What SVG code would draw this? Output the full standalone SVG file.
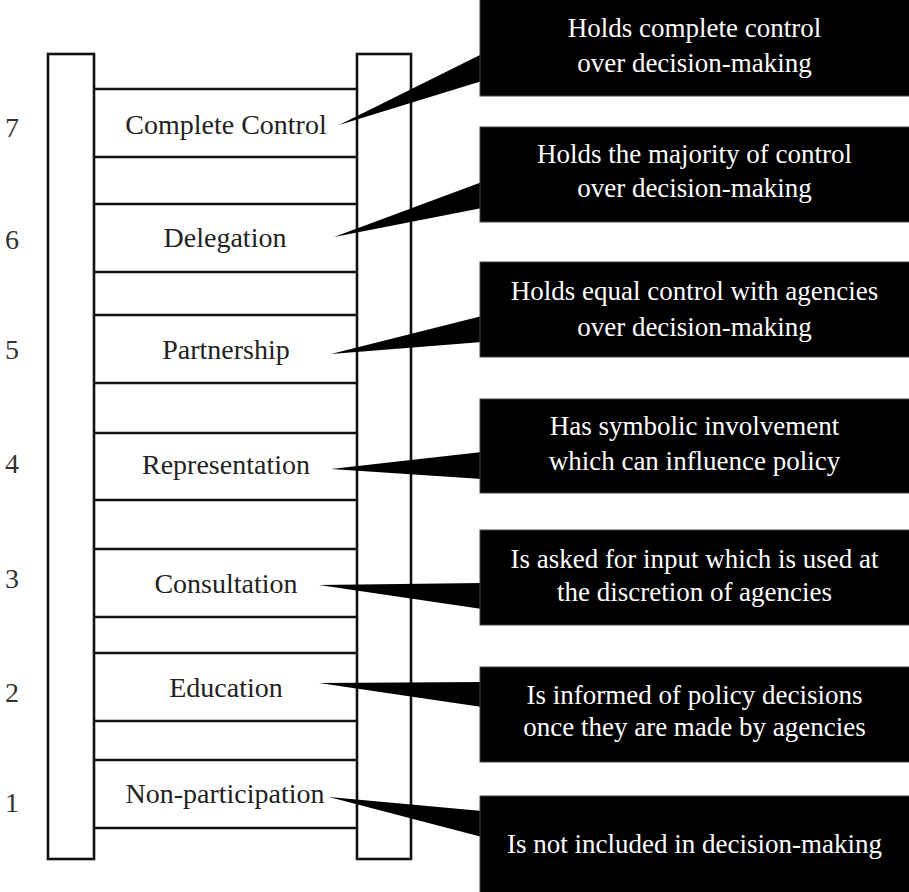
<svg xmlns="http://www.w3.org/2000/svg" width="909" height="892" viewBox="0 0 909 892">
<style>
.rail{fill:#fff;stroke:#111;stroke-width:2.6}
.rung{stroke:#111;stroke-width:2.6}
.lbl{font-family:"Liberation Serif","Times New Roman",serif;font-size:28px;fill:#222;text-anchor:middle}
.num{font-family:"Liberation Serif","Times New Roman",serif;font-size:28px;fill:#333}
.box{fill:#000;stroke:#444;stroke-width:1}
.tail{fill:#000}
.ct{font-family:"Liberation Serif","Times New Roman",serif;font-size:27px;fill:#fff;text-anchor:middle}
</style>
<rect width="909" height="892" fill="#fff"/>
<g id="ladder">
<rect class="rail" x="48" y="54" width="46" height="805"/>
<rect class="rail" x="357" y="54" width="54" height="805"/>
<g>
<line class="rung" x1="94" y1="89" x2="357" y2="89"/><line class="rung" x1="94" y1="157" x2="357" y2="157"/>
<line class="rung" x1="94" y1="204" x2="357" y2="204"/><line class="rung" x1="94" y1="272" x2="357" y2="272"/>
<line class="rung" x1="94" y1="315" x2="357" y2="315"/><line class="rung" x1="94" y1="383" x2="357" y2="383"/>
<line class="rung" x1="94" y1="433" x2="357" y2="433"/><line class="rung" x1="94" y1="500" x2="357" y2="500"/>
<line class="rung" x1="94" y1="549" x2="357" y2="549"/><line class="rung" x1="94" y1="617" x2="357" y2="617"/>
<line class="rung" x1="94" y1="653" x2="357" y2="653"/><line class="rung" x1="94" y1="721" x2="357" y2="721"/>
<line class="rung" x1="94" y1="760" x2="357" y2="760"/><line class="rung" x1="94" y1="828" x2="357" y2="828"/>
</g>
</g>
<g id="level7"><text class="num" x="5" y="137">7</text><text class="lbl" x="226" y="134">Complete Control</text></g>
<g id="level6"><text class="num" x="5" y="249">6</text><text class="lbl" x="225" y="247">Delegation</text></g>
<g id="level5"><text class="num" x="5" y="359">5</text><text class="lbl" x="226" y="359">Partnership</text></g>
<g id="level4"><text class="num" x="5" y="473">4</text><text class="lbl" x="226" y="474">Representation</text></g>
<g id="level3"><text class="num" x="5" y="588">3</text><text class="lbl" x="226" y="593">Consultation</text></g>
<g id="level2"><text class="num" x="5" y="702">2</text><text class="lbl" x="226" y="697">Education</text></g>
<g id="level1"><text class="num" x="5" y="812">1</text><text class="lbl" x="225" y="803">Non-participation</text></g>
<g id="connectors">
<polygon class="tail" points="482,54 339,125 482,81"/>
<polygon class="tail" points="482,182 334,237 482,208"/>
<polygon class="tail" points="482,316 331,354 482,342"/>
<polygon class="tail" points="482,452 331,469 482,479"/>
<polygon class="tail" points="482,583 319,585 482,609"/>
<polygon class="tail" points="482,682 319,683 482,707"/>
<polygon class="tail" points="482,811 329,797 482,837"/>
</g>
<g id="callout7"><rect class="box" x="480" y="-1" width="430" height="97"/><text class="ct" x="694.5" y="37">Holds complete control</text><text class="ct" x="694.5" y="72">over decision-making</text></g>
<g id="callout6"><rect class="box" x="480" y="127" width="430" height="95"/><text class="ct" x="694.5" y="163">Holds the majority of control</text><text class="ct" x="694.5" y="197">over decision-making</text></g>
<g id="callout5"><rect class="box" x="480" y="262" width="430" height="95"/><text class="ct" x="694.5" y="300">Holds equal control with agencies</text><text class="ct" x="694.5" y="336">over decision-making</text></g>
<g id="callout4"><rect class="box" x="480" y="399" width="430" height="94"/><text class="ct" x="694.5" y="435">Has symbolic involvement</text><text class="ct" x="694.5" y="470">which can influence policy</text></g>
<g id="callout3"><rect class="box" x="480" y="530" width="430" height="95"/><text class="ct" x="694.5" y="568">Is asked for input which is used at</text><text class="ct" x="694.5" y="601">the discretion of agencies</text></g>
<g id="callout2"><rect class="box" x="480" y="667" width="430" height="95"/><text class="ct" x="694.5" y="704">Is informed of policy decisions</text><text class="ct" x="694.5" y="736">once they are made by agencies</text></g>
<g id="callout1"><rect class="box" x="480" y="796" width="430" height="97"/><text class="ct" x="694.5" y="853">Is not included in decision-making</text></g>
</svg>
